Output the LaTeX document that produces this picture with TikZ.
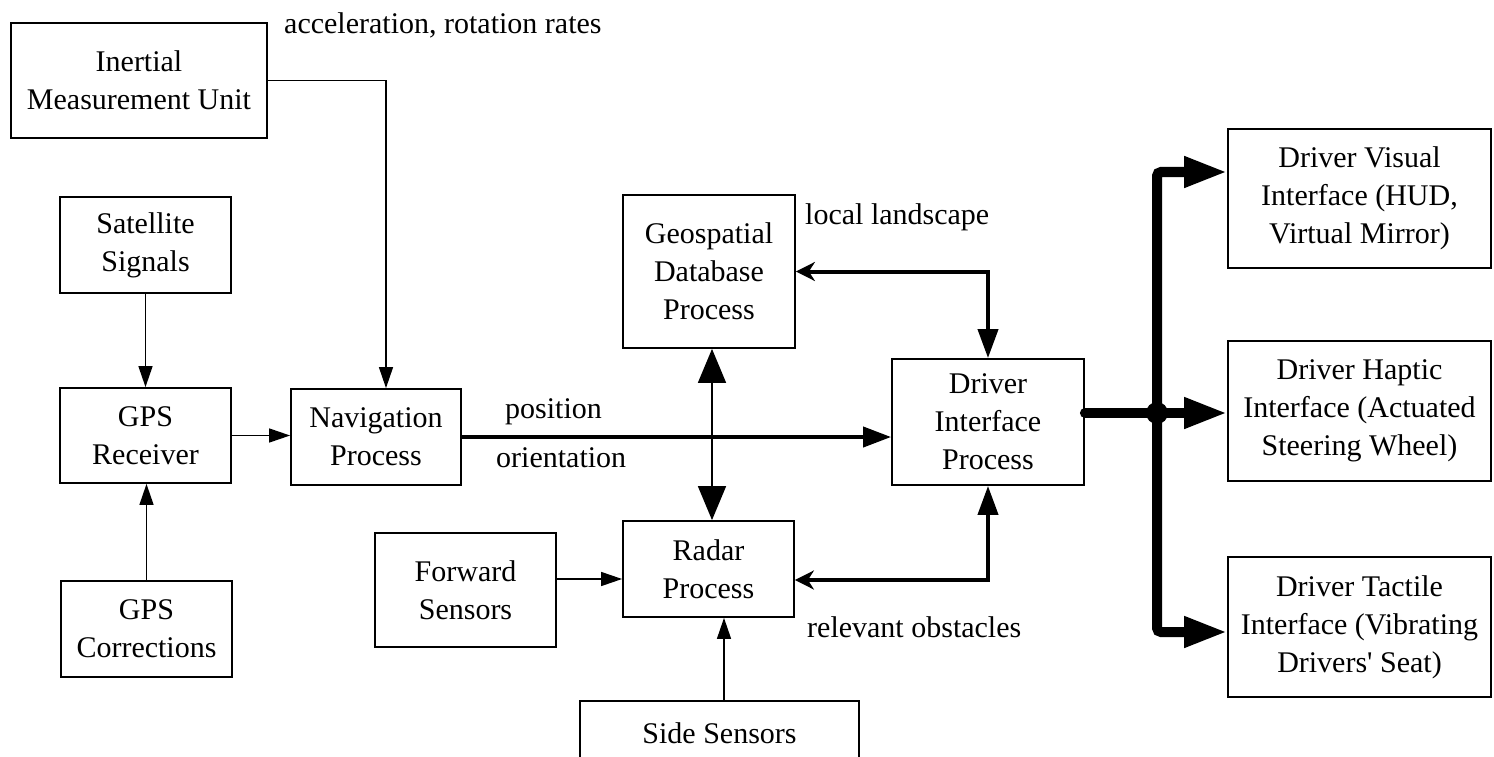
\documentclass[tikz,border=0pt]{standalone}
\usepackage{fontspec}
\setmainfont{Liberation Serif}
\usetikzlibrary{arrows.meta}

\begin{document}
\begin{tikzpicture}[x=1pt,y=-1pt,
  box/.style={draw, line width=1.8pt, align=center, inner sep=0pt, font=\fontsize{30}{38}\selectfont},
  lbl/.style={inner sep=0pt, font=\fontsize{30}{38}\selectfont},
  sig/.style={line width=1.4pt, -{Triangle[length=21pt,width=14pt]}},
  link/.style={line width=4pt},
  bus/.style={line width=10pt, rounded corners=4pt, -{Triangle[length=43pt,width=29pt]}}]
\useasboundingbox (0,0) rectangle (1494,757);
\node [box, minimum width=256pt, minimum height=115pt] (imu) at (139,80.5) {Inertial\\Measurement Unit};
\node [box, minimum width=171pt, minimum height=96pt] (sat) at (145.5,245) {Satellite\\Signals};
\node [box, minimum width=171pt, minimum height=95pt] (gps) at (145.5,435.5) {GPS\\Receiver};
\node [box, minimum width=171pt, minimum height=96pt] (corr) at (146.5,629) {GPS\\Corrections};
\node [box, minimum width=170pt, minimum height=96pt] (nav) at (376,437) {Navigation\\Process};
\node [box, minimum width=172pt, minimum height=153pt] (geo) at (709,271.5) {Geospatial\\Database\\Process};
\node [box, minimum width=171pt, minimum height=96pt] (radar) at (708.5,569) {Radar\\Process};
\node [box, minimum width=181pt, minimum height=114pt] (fwd) at (465.5,590) {Forward\\Sensors};
\node [box, minimum width=279pt, minimum height=65pt] (side) at (719.5,733.5) {Side Sensors};
\node [box, minimum width=192pt, minimum height=126pt] (dip) at (988,422) {Driver\\Interface\\Process};
\node [box, minimum width=263pt, minimum height=139pt] (vis) at (1359.5,198.5) {Driver Visual\\Interface (HUD,\\Virtual Mirror)};
\node [box, minimum width=263pt, minimum height=140pt] (hap) at (1359.5,411) {Driver Haptic\\Interface (Actuated\\Steering Wheel)};
\node [box, minimum width=263pt, minimum height=140pt] (tac) at (1359.5,627) {Driver Tactile\\Interface (Vibrating\\Drivers\textquotesingle{} Seat)};
% labels on the connectors
\node [lbl, anchor=west] (acc) at (284,25) {acceleration, rotation rates};
\node [lbl, anchor=west] (pos) at (505,412) {position};
\node [lbl, anchor=west] (ori) at (496,458) {orientation};
\node [lbl, anchor=west] (land) at (805,217) {local landscape};
\node [lbl, anchor=west] (obs) at (807,627) {relevant obstacles};
% sensor inputs
\draw [sig] (imu.east) -| ([xshift=10pt]nav.north);
\draw [sig] (sat) -- (gps);
\draw [sig] (corr.north) -- (corr.north |- gps.south);
\draw [sig] (gps.east) -- (gps.east -| nav.west);
\draw [sig] ([yshift=11pt]fwd.east) -- ([yshift=11pt]fwd.east -| radar.west);
\draw [sig] ([xshift=4.5pt]side.north) -- ([xshift=4.5pt]side.north |- radar.south);
% processes
\draw [line width=1.6pt, {Triangle[length=34pt,width=28pt]}-{Triangle[length=34pt,width=28pt]}] ([xshift=3pt]geo.south) -- ([xshift=3pt]geo.south |- radar.north);
\draw [link, -{Triangle[length=28pt,width=20pt]}] (nav.east) -- (nav.east -| dip.west);
\draw [link, {Triangle[length=29pt,width=20pt]}-{Stealth[length=19pt,width=19pt,inset=6pt]}] (dip.north) |- (geo.east);
\draw [link, {Triangle[length=29pt,width=20pt]}-{Stealth[length=19pt,width=19pt,inset=6pt]}] (dip.south) |- ([yshift=-11pt]radar.east);
% outputs to the driver
\coordinate (jn) at (1157,413);
\draw [line width=10pt, line cap=round] ([yshift=9pt]dip.east) -- (jn);
\fill (jn) circle [radius=11pt];
\draw [bus] (jn) |- ([yshift=26.5pt]vis.west);
\draw [bus] (jn) -- (jn -| hap.west);
\draw [bus] (jn) |- ([yshift=-5pt]tac.west);
\end{tikzpicture}
\end{document}
